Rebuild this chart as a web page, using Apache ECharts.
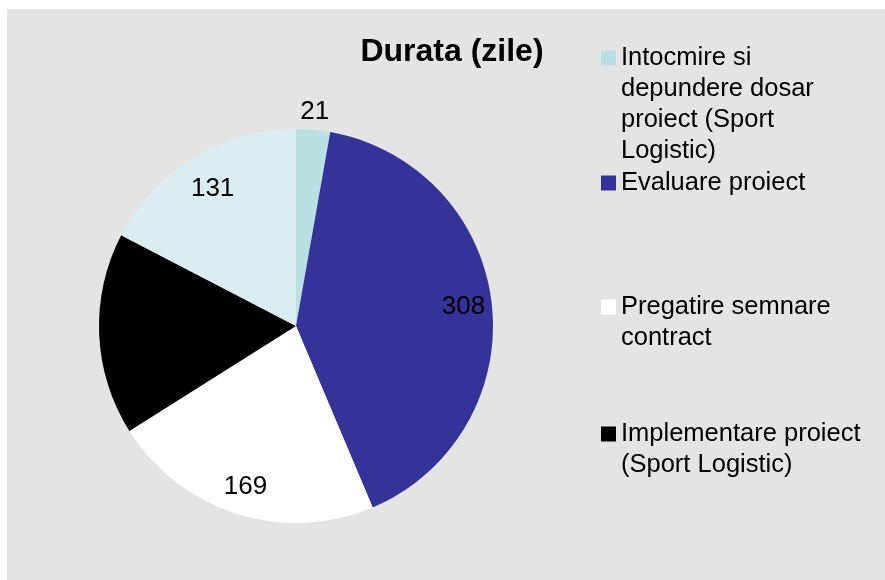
<!DOCTYPE html>
<html>
<head>
<meta charset="utf-8">
<script src="https://cdn.jsdelivr.net/npm/echarts@6/dist/echarts.min.js"></script>
<style>
html,body{margin:0;padding:0;background:#ffffff;}
#chart{width:885px;height:580px;}
</style>
</head>
<body>
<div id="chart"></div>
<script>
var categories = [
  'Intocmire si depundere dosar proiect (Sport Logistic)',
  'Evaluare proiect',
  'Pregatire semnare contract',
  'Implementare proiect (Sport Logistic)',
  'Altele'
];
var values = [21, 308, 169, 125, 131];
var legendNames = categories.slice(0, 4);
var legendText = [
  'Intocmire si\ndepundere dosar\nproiect (Sport\nLogistic)',
  'Evaluare proiect',
  'Pregatire semnare\ncontract',
  'Implementare proiect\n(Sport Logistic)'
];
var titleText = 'Durata (zile)';

var colors = ['#B9E1E3', '#333399', '#FFFFFF', '#000000', '#DAEDF0'];
var FONT = '"Liberation Sans", Arial, sans-serif';
var CX = 296, CY = 326, R = 197;
var LH = 31;
var legendIconY = [58, 183, 307, 434];

var chart = echarts.init(document.getElementById('chart'), null, {renderer: 'canvas'});

var data = categories.map(function (n, i) {
  return {name: n, value: values[i], itemStyle: {color: colors[i]}};
});

var legends = legendNames.map(function (n, i) {
  var lines = legendText[i].split('\n').length;
  var prefix = new Array(lines).join('\n');
  return {
    orient: 'vertical',
    left: 601,
    top: legendIconY[i] - (2 * lines - 1) * LH / 2,
    padding: 0,
    itemWidth: 15,
    itemHeight: 15,
    itemGap: 0,
    icon: 'rect',
    selectedMode: false,
    data: [n],
    formatter: function () { return prefix + legendText[i]; },
    textStyle: {
      fontFamily: FONT,
      fontSize: 25.5,
      color: '#000',
      lineHeight: LH
    }
  };
});

function labelRing(r0, r1, showIdx) {
  return {
    type: 'pie', center: [CX, CY], radius: [r0, r1], startAngle: 90, clockwise: true,
    silent: true, legendHoverLink: false,
    data: categories.map(function (n, i) {
      return {name: n, value: values[i], label: {show: showIdx.indexOf(i) >= 0}};
    }),
    itemStyle: {color: 'rgba(0,0,0,0)', borderWidth: 0},
    label: {show: true, position: 'inside', formatter: '{c}', fontFamily: FONT, fontSize: 26, color: '#000'},
    labelLine: {show: false}
  };
}

var option = {
  animation: false,
  backgroundColor: '#ffffff',
  graphic: [{
    type: 'rect', left: 7, top: 9, z: -10,
    shape: {width: 878, height: 571},
    style: {fill: '#E4E4E4'}
  }],
  title: {
    text: titleText,
    left: 447, top: 31, textAlign: 'center',
    textStyle: {fontFamily: FONT, fontSize: 32, fontWeight: 'bold', color: '#000'}
  },
  legend: legends,
  series: [
    {
      type: 'pie', center: [CX, CY], radius: R, startAngle: 90, clockwise: true,
      data: data, label: {show: false}, labelLine: {show: false}, silent: true,
      itemStyle: {borderWidth: 0}
    },
    labelRing(R * 0.68, R, [1, 2, 3]),
    labelRing(R * 0.60, R, [4]),
    labelRing(R, R * 1.15, [0])
  ]
};
chart.setOption(option);
</script>
</body>
</html>
